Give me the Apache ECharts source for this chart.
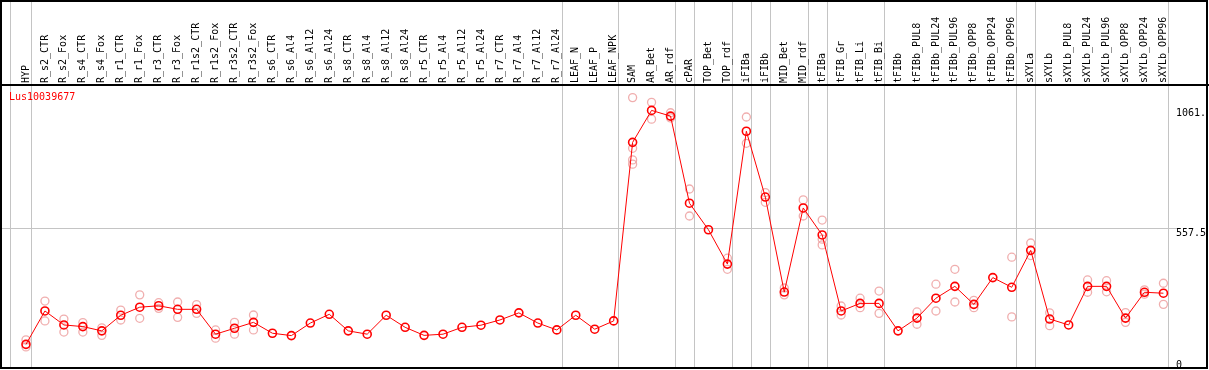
<!DOCTYPE html>
<html><head><meta charset="utf-8">
<script src="https://cdn.jsdelivr.net/npm/echarts@6/dist/echarts.min.js"></script>
<style>html,body{margin:0;padding:0;background:#fff}#c{width:1209px;height:370px}</style>
</head><body><div id="c"></div><script>
const categories = ['HYP','R_s2_CTR','R_s2_Fox','R_s4_CTR','R_s4_Fox','R_r1_CTR','R_r1_Fox','R_r3_CTR','R_r3_Fox','R_r1s2_CTR','R_r1s2_Fox','R_r3s2_CTR','R_r3s2_Fox','R_s6_CTR','R_s6_Al4','R_s6_Al12','R_s6_Al24','R_s8_CTR','R_s8_Al4','R_s8_Al12','R_s8_Al24','R_r5_CTR','R_r5_Al4','R_r5_Al12','R_r5_Al24','R_r7_CTR','R_r7_Al4','R_r7_Al12','R_r7_Al24','LEAF_N','LEAF_P','LEAF_NPK','SAM','AR_Bet','AR_rdf','cPAR','TOP_Bet','TOP_rdf','iFIBa','iFIBb','MID_Bet','MID_rdf','tFIBa','tFIB_Gr','tFIB_Li','tFIB_Bi','tFIBb','tFIBb_PUL8','tFIBb_PUL24','tFIBb_PUL96','tFIBb_OPP8','tFIBb_OPP24','tFIBb_OPP96','sXYLa','sXYLb','sXYLb_PUL8','sXYLb_PUL24','sXYLb_PUL96','sXYLb_OPP8','sXYLb_OPP24','sXYLb_OPP96'];

const meanValues = [66,207,148,141,123,189,223,229,214,214,109,134,159,113,103,156,193,123,109,189,138,104,109,138,147,169,199,156,127,189,130,165,919,1054,1030,662,550,405,966,688,287,642,528,207,239,239,123,177,261,311,235,348,307,463,173,148,311,311,177,286,282];

const rep1 = [85,249,173,158,136,211,275,242,245,234,127,159,190,null,null,null,null,null,null,null,null,null,null,null,null,null,null,null,null,null,null,null,1108,1088,1044,722,null,430,1026,707,304,676,591,228,261,291,null,203,320,383,252,null,434,494,199,null,338,335,200,296,324];
const rep2 = [55,165,118,118,104,169,176,218,180,197,92,109,127,null,null,null,null,null,null,null,null,null,null,null,null,null,null,null,null,null,null,null,894,1017,1022,608,null,383,915,666,275,608,510,190,221,197,null,151,207,245,221,null,182,441,145,null,286,288,159,278,235];
const rep3 = [null,null,null,null,null,null,null,null,null,null,null,null,null,null,null,null,null,null,null,null,null,null,null,null,null,null,null,null,null,null,null,null,845,null,null,null,null,null,null,null,null,null,486,null,null,null,null,null,null,null,null,null,null,null,null,null,null,null,null,null,null];
const rep4 = [null,null,null,null,null,null,null,null,null,null,null,null,null,null,null,null,null,null,null,null,null,null,null,null,null,null,null,null,null,null,null,null,827,null,null,null,null,null,null,null,null,null,null,null,null,null,null,null,null,null,null,null,null,null,null,null,null,null,null,null,null];

const yTickValues = [0, 557.5, 1061];
const yTickLabels = ['0', '557.5', '1061.'];
const groupEnds = ['HYP','R_r7_Al24','LEAF_NPK','AR_rdf','cPAR','TOP_rdf','iFIBa','iFIBb','MID_rdf','tFIBa','tFIB_Bi','tFIBb_OPP96','sXYLa','sXYLb_OPP96'];
const title = 'Lus10039677';

const FONT = 'DejaVu Sans Mono';
const chart = echarts.init(document.getElementById('c'), null, {renderer: 'canvas'});

const repStyle = {color: 'rgba(0,0,0,0)', borderColor: '#ec9a9a', borderWidth: 1.3};
function repSeries(d) {
  return {type: 'scatter', data: d, symbol: 'circle', symbolSize: 8, itemStyle: repStyle, z: 1, silent: true};
}

chart.setOption({
  animation: false,
  title: {text: title, left: 9, top: 92, padding: 0,
    textStyle: {color: '#ff0000', fontFamily: FONT, fontSize: 10, fontWeight: 'normal'}},
  grid: {left: 16.5, right: 33.5, top: 86, bottom: 1},
  xAxis: {type: 'category', data: categories, position: 'top', boundaryGap: true,
    axisLine: {show: false}, axisTick: {show: false}, splitLine: {show: false},
    axisLabel: {rotate: 90, interval: 0, margin: 3, color: '#000', fontFamily: FONT, fontSize: 10}},
  yAxis: {type: 'value', position: 'right', min: -38, max: 1157,
    splitLine: {show: false}, axisLine: {show: false}, axisTick: {show: false},
    axisLabel: {customValues: yTickValues, margin: 3, verticalAlign: 'top', color: '#000',
      fontFamily: FONT, fontSize: 10,
      formatter: v => { const i = yTickValues.indexOf(v); return i >= 0 ? yTickLabels[i] : ''; }}},
  series: [
    repSeries(rep1), repSeries(rep2), repSeries(rep3), repSeries(rep4),
    {type: 'line', data: meanValues, symbol: 'circle', symbolSize: 8, z: 3,
      lineStyle: {color: '#ff0000', width: 1},
      itemStyle: {color: 'rgba(0,0,0,0)', borderColor: '#ff0000', borderWidth: 1.6}}
  ]
});

const xOf = i => chart.convertToPixel({xAxisIndex: 0}, i);
const band = xOf(1) - xOf(0);
const graphics = [];
const sepX = groupEnds.map(n => xOf(categories.indexOf(n)) + band * 0.25);
sepX.unshift(xOf(0) - band * 0.84);
sepX.forEach(x => {
  const xx = Math.round(x) + 0.5;
  graphics.push({type: 'line', z: 0, silent: true, shape: {x1: xx, y1: 0, x2: xx, y2: 369},
    style: {stroke: '#c4c4c4', lineWidth: 1}});
});
const yMid = Math.round(chart.convertToPixel({yAxisIndex: 0}, yTickValues[1])) + 0.5;
graphics.push({type: 'line', z: 0, silent: true, shape: {x1: 1, y1: yMid, x2: 1177, y2: yMid},
  style: {stroke: '#c4c4c4', lineWidth: 1}});
graphics.push({type: 'line', z: 10, silent: true, shape: {x1: 0, y1: 85, x2: 1209, y2: 85},
  style: {stroke: '#000', lineWidth: 2}});
graphics.push({type: 'rect', z: 10, silent: true, shape: {x: 1, y: 1, width: 1206, height: 367},
  style: {fill: null, stroke: '#000', lineWidth: 2}});
chart.setOption({graphic: graphics});
</script></body></html>
